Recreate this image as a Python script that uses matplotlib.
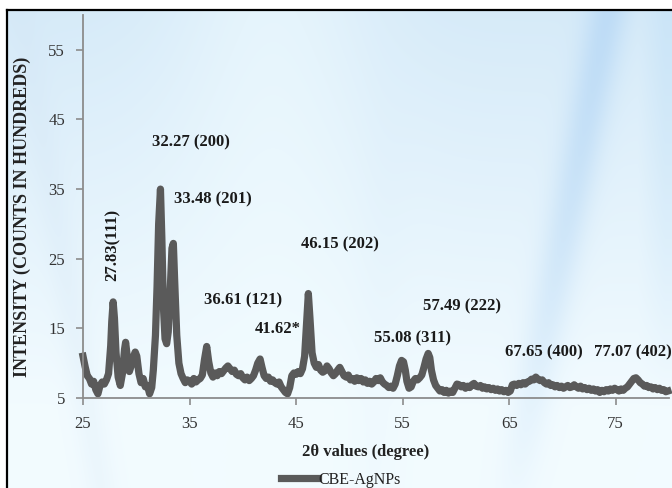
import numpy as np
import matplotlib
matplotlib.use("Agg")
import matplotlib.pyplot as plt
from matplotlib.lines import Line2D

# ---------------- data ----------------
two_theta = [
    25.0, 25.2, 25.4, 25.6, 25.8, 26.0, 26.2, 26.4, 26.6, 26.8, 27.0, 27.2, 27.4,
    27.6, 27.7, 27.83, 27.95, 28.1, 28.3, 28.5, 28.7, 28.9, 29.0, 29.15, 29.35,
    29.5, 29.7, 29.9, 30.05, 30.25, 30.45, 30.65, 30.85, 31.05, 31.25, 31.45,
    31.6, 31.8, 31.95, 32.1, 32.27, 32.4, 32.55, 32.7, 32.85, 33.0, 33.2, 33.35,
    33.48, 33.6, 33.8, 34.0, 34.2, 34.4, 34.6, 34.8, 35.0, 35.2, 35.4, 35.6,
    35.8, 36.0, 36.2, 36.4, 36.61, 36.8, 37.0, 37.2, 37.4, 37.6, 37.8, 38.0,
    38.2, 38.4, 38.6, 38.8, 39.0, 39.2, 39.4, 39.6, 39.8, 40.0, 40.2, 40.4,
    40.6, 40.8, 41.0, 41.2, 41.4, 41.62, 41.8, 42.0, 42.2, 42.4, 42.6, 42.8,
    43.0, 43.2, 43.4, 43.6, 43.8, 44.0, 44.2, 44.4, 44.6, 44.8, 45.0, 45.2,
    45.4, 45.6, 45.8, 46.0, 46.15, 46.3, 46.5, 46.7, 46.9, 47.1, 47.3, 47.5,
    47.7, 47.9, 48.1, 48.3, 48.5, 48.7, 48.9, 49.1, 49.3, 49.5, 49.7, 49.9,
    50.1, 50.3, 50.5, 50.7, 50.9, 51.1, 51.3, 51.5, 51.7, 51.9, 52.1, 52.3,
    52.5, 52.7, 52.9, 53.1, 53.3, 53.5, 53.7, 53.9, 54.1, 54.3, 54.5, 54.7,
    54.9, 55.08, 55.25, 55.4, 55.6, 55.8, 56.0, 56.2, 56.4, 56.6, 56.8, 57.0,
    57.2, 57.4, 57.55, 57.7, 57.9, 58.1, 58.3, 58.5, 58.7, 58.9, 59.1, 59.3,
    59.5, 59.7, 59.9, 60.1, 60.3, 60.5, 60.7, 60.9, 61.1, 61.3, 61.5, 61.7,
    61.9, 62.1, 62.3, 62.5, 62.7, 62.9, 63.1, 63.3, 63.5, 63.7, 63.9, 64.1,
    64.3, 64.5, 64.7, 64.9, 65.1, 65.3, 65.5, 65.7, 65.9, 66.1, 66.3, 66.5,
    66.7, 66.9, 67.1, 67.3, 67.5, 67.7, 67.9, 68.1, 68.3, 68.5, 68.7, 68.9,
    69.1, 69.3, 69.5, 69.7, 69.9, 70.1, 70.3, 70.5, 70.7, 70.9, 71.1, 71.3,
    71.5, 71.7, 71.9, 72.1, 72.3, 72.5, 72.7, 72.9, 73.1, 73.3, 73.5, 73.7,
    73.9, 74.1, 74.3, 74.5, 74.7, 74.9, 75.1, 75.3, 75.5, 75.7, 75.9, 76.1,
    76.3, 76.5, 76.7, 76.9, 77.1, 77.3, 77.5, 77.7, 77.9, 78.1, 78.3, 78.5,
    78.7, 78.9, 79.1, 79.3, 79.5, 79.7, 79.9,
]
intensity = [
    11.0, 9.5, 8.2, 7.8, 7.0, 7.4, 6.2, 5.6, 6.8, 7.3, 7.0, 7.6, 8.5,
    12.5, 16.0, 18.8, 16.5, 11.5, 8.0, 6.8, 8.5, 12.0, 13.0, 11.0, 8.8,
    9.5, 10.8, 11.6, 11.0, 8.5, 7.2, 7.8, 6.6, 6.8, 5.6, 6.5,
    9.0, 14.0, 21.0, 30.0, 35.0, 28.0, 18.0, 13.5, 12.8, 14.5, 21.0, 26.5,
    27.2, 22.0, 14.0, 10.0, 8.5, 7.8, 7.2, 7.6, 7.4, 7.0, 7.8, 7.3,
    7.6, 7.8, 8.3, 10.5, 12.4, 10.2, 8.6, 8.0, 8.6, 8.2, 8.8, 8.5,
    8.9, 9.3, 9.6, 9.2, 8.8, 9.0, 8.4, 8.2, 8.5, 7.9, 7.6, 8.0,
    7.5, 7.8, 8.2, 9.0, 10.0, 10.6, 9.4, 8.2, 7.8, 8.0, 7.4, 7.6,
    7.2, 7.0, 7.3, 6.6, 6.2, 5.8, 5.6, 6.5, 8.2, 8.6, 8.4, 8.8,
    8.5, 9.2, 11.0, 16.0, 20.0, 16.5, 11.5, 10.0, 9.4, 9.8, 9.0, 8.7,
    8.9, 9.6, 9.2, 8.6, 8.2, 8.5, 9.0, 9.4, 8.8, 8.2, 8.0, 8.3,
    7.6, 7.8, 7.4, 7.9, 7.5, 7.8, 7.3, 7.6, 7.1, 7.4, 7.0, 7.3,
    7.8, 7.5, 7.9, 7.3, 7.0, 6.8, 6.5, 6.7, 6.4, 7.0, 8.2, 9.6,
    10.4, 10.2, 9.0, 7.4, 6.4, 6.6, 7.4, 7.8, 7.6, 7.9, 8.3, 9.4,
    10.6, 11.4, 10.8, 9.0, 7.6, 6.8, 6.4, 6.0, 6.2, 5.8, 6.1, 5.7,
    6.0, 5.8, 6.4, 7.0, 6.9, 6.6, 6.8, 6.4, 6.7, 6.5, 6.9, 7.1,
    6.7, 6.6, 6.8, 6.4, 6.6, 6.3, 6.5, 6.2, 6.4, 6.1, 6.3, 6.0,
    6.2, 5.9, 6.1, 5.8, 6.0, 6.9, 7.0, 6.8, 7.1, 6.9, 7.2, 7.0,
    7.3, 7.4, 7.7, 7.6, 8.0, 7.7, 7.5, 7.6, 7.2, 7.0, 7.2, 6.8,
    6.9, 6.6, 6.8, 6.5, 6.7, 6.4, 6.6, 6.8, 6.5, 6.6, 6.9, 6.6,
    6.4, 6.7, 6.3, 6.5, 6.2, 6.4, 6.1, 6.3, 6.0, 6.2, 5.8, 6.1,
    5.9, 6.2, 6.0, 6.3, 6.1, 6.4, 6.2, 6.0, 6.3, 6.1, 6.4, 6.6,
    7.0, 7.4, 7.8, 7.9, 7.6, 7.2, 7.0, 6.7, 6.8, 6.5, 6.6, 6.3,
    6.5, 6.2, 6.4, 6.1, 6.2, 5.9, 6.0,
]
series_label = "CBE-AgNPs"

peak_labels = ["32.27 (200)", "33.48 (201)", "27.83(111)", "36.61 (121)", "41.62*",
               "46.15 (202)", "55.08 (311)", "57.49 (222)", "67.65 (400)", "77.07 (402)"]
peak_label_x = [35.14, 37.16, 27.82, 39.98, 43.26, 49.13, 55.9, 60.6, 68.24, 76.6]
peak_label_y = [41.7, 33.5, 27.0, 19.0, 14.9, 27.0, 13.6, 18.2, 11.6, 11.6]
peak_label_rot = [0, 0, 90, 0, 0, 0, 0, 0, 0, 0]

x_ticks = [25, 35, 45, 55, 65, 75]
y_ticks = [5, 15, 25, 35, 45, 55]

# ---------------- figure ----------------
W, H = 672, 488
fig = plt.figure(figsize=(W / 100, H / 100), dpi=100)
fig.patch.set_facecolor("white")

# decorative light-blue background inside the frame (not data)
fx0, fy1 = 7 / W, 1 - 10 / H
bg = fig.add_axes([fx0, 0, 1 - fx0, fy1])
bg.set_axis_off()
ny, nx = 240, 340
yy, xx = np.mgrid[0:1:ny * 1j, 0:1:nx * 1j]
base_top = np.array([0.84, 0.92, 0.975])
base_bot = np.array([0.95, 0.985, 1.0])
t = np.clip(yy * 1.2, 0, 1)[..., None]
img = base_top * (1 - t) + base_bot * t
light = (np.exp(-((xx - 0.40) / 0.16) ** 2) * 0.55)[..., None]
img = img * (1 - light) + np.array([0.95, 0.99, 1.0]) * light


def soft_streak(cx, slope, w, amt, fade):
    d = xx - (cx + slope * yy)
    m = np.exp(-(d / w) ** 2) * amt * np.clip(1 - yy * fade, 0, 1)
    return m[..., None]


s1 = soft_streak(0.905, -0.14, 0.032, 0.95, 0.9)
img = img * (1 - s1) + np.array([0.74, 0.86, 0.965]) * s1
s_right = (np.clip((xx - 0.95) / 0.04, 0, 1) * np.clip(1 - yy * 1.2, 0, 1) * 0.7)[..., None]
img = img * (1 - s_right) + np.array([0.78, 0.89, 0.97]) * s_right
s2 = soft_streak(0.58, -0.03, 0.04, 0.25, 0.6)
img = img * (1 - s2) + np.array([0.86, 0.93, 0.98]) * s2
s3 = soft_streak(0.02, 0.12, 0.025, 0.35, 0.4)
img = img * (1 - s3) + np.array([0.83, 0.9, 0.96]) * s3
bg.imshow(np.clip(img, 0, 1), extent=[0, 1, 0, 1], aspect="auto", origin="upper",
          interpolation="bilinear")
bg.set_xlim(0, 1)
bg.set_ylim(0, 1)

# frame lines (left and top)
fig.add_artist(Line2D([fx0, fx0], [0, fy1], color="black", lw=1.6, transform=fig.transFigure))
fig.add_artist(Line2D([fx0, 1], [fy1, fy1], color="black", lw=1.6, transform=fig.transFigure))

ax = fig.add_axes([83 / W, 1 - 398 / H, (669 - 83) / W, (398 - 15) / H])
ax.patch.set_alpha(0)

line, = ax.plot(two_theta, intensity, color="#5a5a5a", lw=5.2, solid_joinstyle="round",
                label=series_label, clip_on=False)

ax.set_xlim(25, 80)
ax.set_ylim(5, 60)
ax.set_xticks(x_ticks)
ax.set_yticks(y_ticks)

serif = "Liberation Serif"
for sp in ["top", "right"]:
    ax.spines[sp].set_visible(False)
for sp in ["left", "bottom"]:
    ax.spines[sp].set_color("#8c8c8c")
    ax.spines[sp].set_linewidth(1.3)
ax.tick_params(axis="both", direction="out", length=5, width=1.2, color="#8c8c8c",
               labelsize=12, labelcolor="#333333")
ax.tick_params(axis="x", pad=8)
ax.tick_params(axis="y", pad=8)
for lab in ax.get_xticklabels() + ax.get_yticklabels():
    lab.set_fontfamily(serif)

ax.set_xlabel("2θ values (degree)", fontfamily=serif, fontweight="bold", fontsize=12,
              color="#222222", va="center")
ax.xaxis.set_label_coords((366 - 83) / (669 - 83), -(452 - 398) / (398 - 15))
ax.set_ylabel("INTENSITY (COUNTS IN HUNDREDS)", fontfamily=serif, fontweight="bold",
              fontsize=13, color="#222222", va="center")
ax.yaxis.set_label_coords(-(83 - 22) / (669 - 83), (398 - 217) / (398 - 15))

for lbl, lx, ly, rot in zip(peak_labels, peak_label_x, peak_label_y, peak_label_rot):
    ax.text(lx, ly, lbl, ha="center", va="center", rotation=rot, fontfamily=serif,
            fontweight="bold", fontsize=12, color="#1a1a1a")

fig.legend(handles=[line], labels=[series_label], loc="center",
           bbox_to_anchor=(341 / W, 1 - 480 / H), frameon=False,
           prop={"family": serif, "size": 11.5}, handlelength=2.3, handletextpad=0.0,
           borderpad=0, labelcolor="#222222")

fig.savefig("out.png", dpi=100)
